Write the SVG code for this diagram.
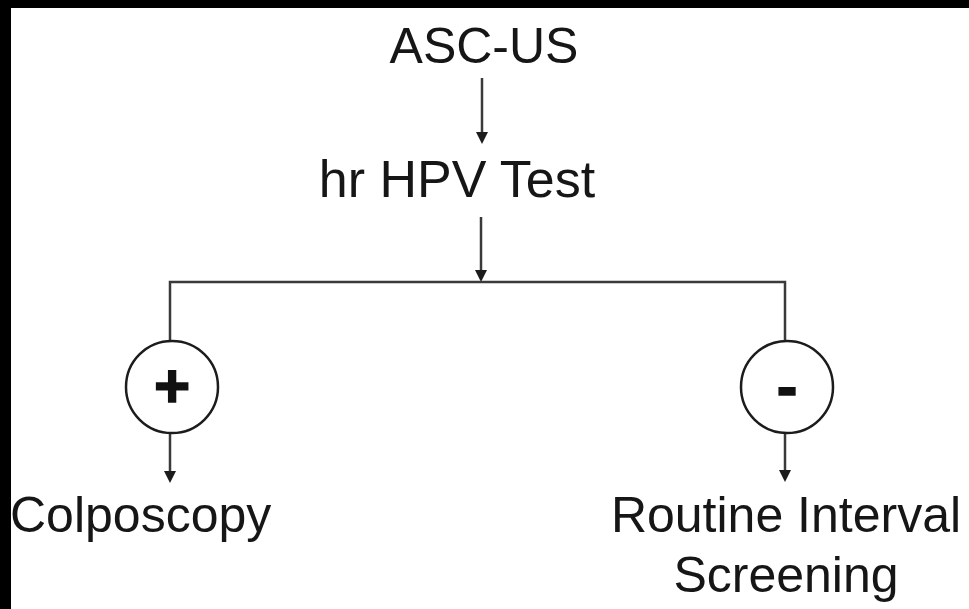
<svg xmlns="http://www.w3.org/2000/svg" width="969" height="609" viewBox="0 0 969 609">
  <defs>
    <style>
      .lbl { font-family: "Liberation Sans", Arial, sans-serif; font-size: 50px; fill: #161616; }
      .big { font-size: 52px; }
      .sign { font-family: "Liberation Sans", Arial, sans-serif; font-weight: bold; font-size: 62px; fill: #111; stroke: #111; stroke-width: 1.5; text-anchor: middle; }
      .wire { fill: none; stroke: #3a3a3a; stroke-width: 2.5; }
      .ring { fill: #fff; stroke: #1c1c1c; stroke-width: 2.5; }
      .head { fill: #1c1c1c; }
    </style>
  </defs>

  <!-- page background and dark frame edges -->
  <rect x="0" y="0" width="969" height="609" fill="#fff"/>
  <rect x="0" y="0" width="969" height="8" fill="#000"/>
  <rect x="0" y="0" width="11" height="609" fill="#000"/>

  <!-- connectors -->
  <g id="connectors">
    <path class="wire" d="M482,78 L482,133"/>
    <path class="head" d="M476,132 L488,132 L482,144 Z"/>
    <path class="wire" d="M481,217 L481,271"/>
    <path class="head" d="M475,270 L487,270 L481,282 Z"/>
    <path class="wire" d="M170,341 L170,282 L785,282 L785,341"/>
    <path class="wire" d="M170,433 L170,472"/>
    <path class="head" d="M164,471 L176,471 L170,483 Z"/>
    <path class="wire" d="M785,434 L785,471"/>
    <path class="head" d="M779,470 L791,470 L785,482 Z"/>
  </g>

  <!-- nodes -->
  <g id="node-ascus">
    <text class="lbl" x="484" y="63" text-anchor="middle">ASC-US</text>
  </g>
  <g id="node-hpv">
    <text class="lbl big" x="457" y="197" text-anchor="middle">hr HPV Test</text>
  </g>
  <g id="node-positive">
    <circle class="ring" cx="172" cy="387" r="46"/>
    <text class="sign" x="172" y="407">+</text>
  </g>
  <g id="node-negative">
    <circle class="ring" cx="787" cy="387" r="46"/>
    <text class="sign" x="787" y="407">-</text>
  </g>
  <g id="node-colposcopy">
    <text class="lbl" x="10" y="532">Colposcopy</text>
  </g>
  <g id="node-routine">
    <text class="lbl" x="786" y="532" text-anchor="middle">Routine Interval</text>
    <text class="lbl" x="786" y="592" text-anchor="middle">Screening</text>
  </g>
</svg>
